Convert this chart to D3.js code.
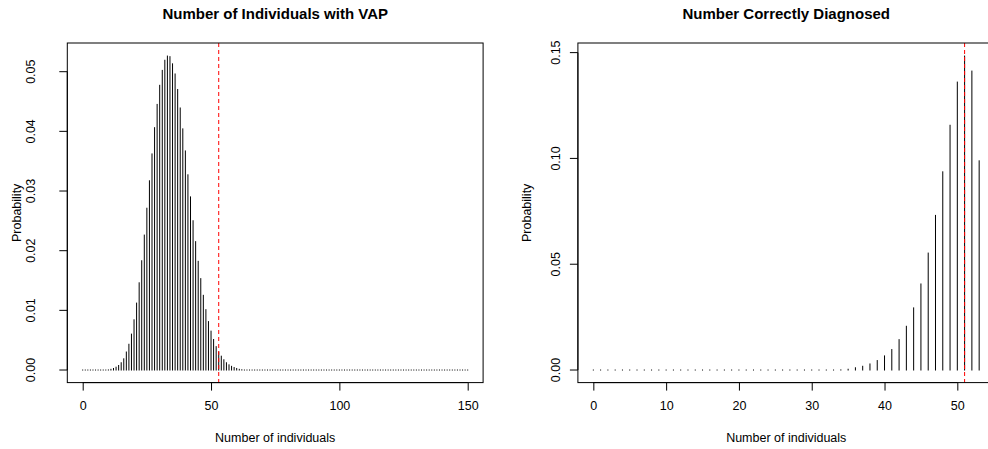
<!DOCTYPE html>
<html>
<head>
<meta charset="utf-8">
<script src="https://cdn.jsdelivr.net/npm/d3@7"></script>
<style>
  body { margin: 0; background: #fff; }
  text { font-family: "Liberation Sans", Arial, Helvetica, sans-serif; fill: #000; }
</style>
</head>
<body>
<div id="chart"></div>
<script>
// Probability of each count (index = number of individuals)
var vapProbs = [
  0, 0, 0, 0, 0, 0, 0.00001, 0.00001, 0.00002, 0.00005,
  0.0001, 0.0002, 0.00034, 0.00056, 0.00084, 0.0013, 0.00196, 0.0031, 0.0044, 0.0061,
  0.0085, 0.0113, 0.0147, 0.0184, 0.0227, 0.0272, 0.0318, 0.0363, 0.0407, 0.0446,
  0.0478, 0.0503, 0.052, 0.0527, 0.0526, 0.0514, 0.0497, 0.0471, 0.044, 0.0405,
  0.0368, 0.0328, 0.0291, 0.0251, 0.0216, 0.0183, 0.0154, 0.0126, 0.0102, 0.0082,
  0.0066, 0.0052, 0.004, 0.0031, 0.0024, 0.0018, 0.0013, 0.00095, 0.0007, 0.0005,
  0.00034, 0.0002, 0.00013, 0.00008, 0.00005, 0.00003, 0.00002, 0.00001, 0.00001, 0,
  0, 0, 0, 0, 0, 0, 0, 0, 0, 0,
  0, 0, 0, 0, 0, 0, 0, 0, 0, 0,
  0, 0, 0, 0, 0, 0, 0, 0, 0, 0,
  0, 0, 0, 0, 0, 0, 0, 0, 0, 0,
  0, 0, 0, 0, 0, 0, 0, 0, 0, 0,
  0, 0, 0, 0, 0, 0, 0, 0, 0, 0,
  0, 0, 0, 0, 0, 0, 0, 0, 0, 0,
  0, 0, 0, 0, 0, 0, 0, 0, 0, 0,
  0
];
var vapXTicks = [0, 50, 100, 150];
var vapYTicks = [0, 0.01, 0.02, 0.03, 0.04, 0.05];
var vapMark = 53;

var diagProbs = [
  0, 0, 0, 0, 0, 0, 0, 0, 0, 0,
  0, 0, 0, 0, 0, 0, 0, 0, 0, 0,
  0, 0, 0, 0, 0, 0, 0, 0, 0, 0,
  0.00002, 0.00005, 0.0001, 0.0002, 0.0003, 0.0006, 0.0013, 0.002, 0.0031, 0.0047,
  0.0069, 0.0099, 0.0146, 0.0209, 0.0296, 0.0409, 0.0555, 0.0733, 0.0939, 0.1159,
  0.1363, 0.1486, 0.1415, 0.0991
];
var diagXTicks = [0, 10, 20, 30, 40, 50];
var diagYTicks = [0, 0.05, 0.1, 0.15];
var diagMark = 51;

var svgWidth = 988;
var svgHeight = 449;

var svg = d3
  .select("#chart")
  .append("svg")
  .attr("width", svgWidth)
  .attr("height", svgHeight);

// R style: extend the data range by 4% on each side
function expand(lo, hi) {
  var pad = (hi - lo) * 0.04;
  return [lo - pad, hi + pad];
}

function drawPanel(p) {
  var x = d3
    .scaleLinear()
    .domain(expand(0, p.probs.length - 1))
    .range([p.left, p.right]);

  var y = d3
    .scaleLinear()
    .domain(expand(0, d3.max(p.probs)))
    .range([p.bottom, p.top]);

  var g = svg.append("g");
  var y0 = y(0);

  // spikes (type = "h")
  g.selectAll("line.spike")
    .data(p.probs)
    .enter()
    .append("line")
    .attr("class", "spike")
    .attr("x1", (d, i) => x(i))
    .attr("x2", (d, i) => x(i))
    .attr("y1", y0 + 0.5)
    .attr("y2", (d) => Math.min(y(d), y0 - 0.5))
    .attr("stroke", "#000")
    .attr("stroke-width", 1);

  // dashed reference line
  g.append("line")
    .attr("x1", x(p.mark))
    .attr("x2", x(p.mark))
    .attr("y1", p.top)
    .attr("y2", p.bottom)
    .attr("stroke", "red")
    .attr("stroke-width", 1)
    .attr("stroke-dasharray", "4,3");

  // box
  g.append("rect")
    .attr("x", p.left)
    .attr("y", p.top)
    .attr("width", p.right - p.left)
    .attr("height", p.bottom - p.top)
    .attr("fill", "none")
    .attr("stroke", "#000")
    .attr("stroke-width", 1);

  // x axis
  var xAxis = g
    .append("g")
    .attr("transform", `translate(0, ${p.bottom})`)
    .call(d3.axisBottom(x).tickValues(p.xTicks).tickSize(8).tickPadding(10.6).tickFormat(d3.format("d")));
  xAxis.select(".domain").remove();
  xAxis.append("line")
    .attr("x1", x(p.xTicks[0]))
    .attr("x2", x(p.xTicks[p.xTicks.length - 1]))
    .attr("stroke", "#000");
  xAxis.selectAll("text")
    .style("font-size", "12.5px")
    .style("font-family", '"Liberation Sans", Arial, sans-serif')
    .attr("fill", "#000");

  // y axis (labels parallel to the axis)
  var yAxis = g.append("g");
  yAxis.append("line")
    .attr("x1", p.left)
    .attr("x2", p.left)
    .attr("y1", y(p.yTicks[0]))
    .attr("y2", y(p.yTicks[p.yTicks.length - 1]))
    .attr("stroke", "#000");
  yAxis.selectAll("line.tick")
    .data(p.yTicks)
    .enter()
    .append("line")
    .attr("class", "tick")
    .attr("x1", p.left - 8)
    .attr("x2", p.left)
    .attr("y1", (d) => y(d))
    .attr("y2", (d) => y(d))
    .attr("stroke", "#000");
  yAxis.selectAll("text")
    .data(p.yTicks)
    .enter()
    .append("text")
    .attr("transform", (d) => `translate(${p.left - p.yLabelGap}, ${y(d)}) rotate(-90)`)
    .attr("text-anchor", "middle")
    .style("font-size", "12.5px")
    .text(d3.format(".2f"));

  // titles
  var cx = (p.left + p.right) / 2;
  svg.append("text")
    .attr("x", cx)
    .attr("y", 19)
    .attr("text-anchor", "middle")
    .style("font-size", "15px")
    .style("font-weight", "bold")
    .text(p.title);

  svg.append("text")
    .attr("x", cx)
    .attr("y", 441.5)
    .attr("text-anchor", "middle")
    .style("font-size", "12.5px")
    .text("Number of individuals");

  svg.append("text")
    .attr("transform", `translate(${p.left - 46.5}, ${(p.top + p.bottom) / 2}) rotate(-90)`)
    .attr("text-anchor", "middle")
    .style("font-size", "12.5px")
    .text("Probability");
}

drawPanel({
  probs: vapProbs,
  xTicks: vapXTicks,
  yTicks: vapYTicks,
  mark: vapMark,
  title: "Number of Individuals with VAP",
  left: 67.3,
  right: 483.1,
  top: 43,
  bottom: 382.6,
  yLabelGap: 32.3,
});

drawPanel({
  probs: diagProbs,
  xTicks: diagXTicks,
  yTicks: diagYTicks,
  mark: diagMark,
  title: "Number Correctly Diagnosed",
  left: 577.9,
  right: 994.6,
  top: 43,
  bottom: 382.6,
  yLabelGap: 18.2,
});
</script>
</body>
</html>
